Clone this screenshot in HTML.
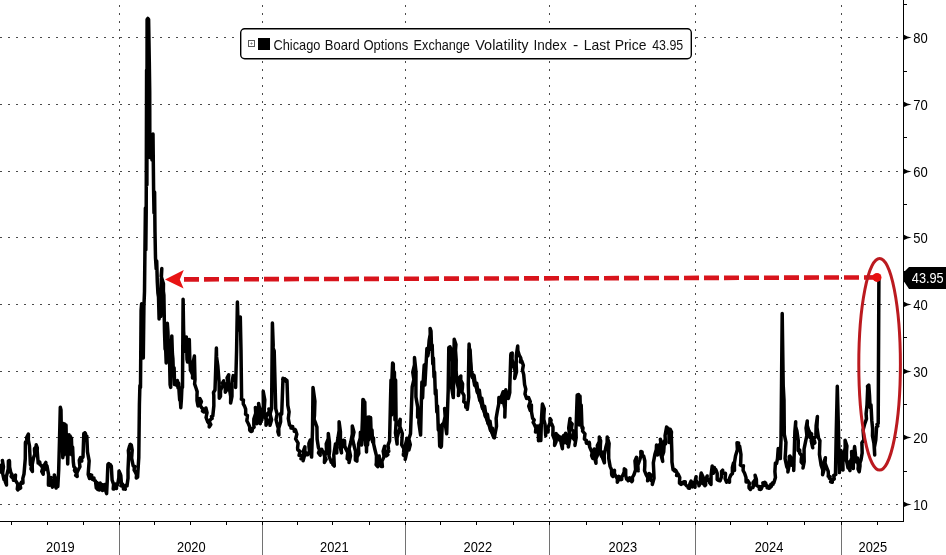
<!DOCTYPE html><html><head><meta charset="utf-8"><style>html,body{margin:0;padding:0;background:#fff;}svg{display:block;}text{font-family:"Liberation Sans",sans-serif;}.t{filter:grayscale(1)}</style></head><body>
<svg width="946" height="555" viewBox="0 0 946 555">
<rect x="0" y="0" width="946" height="555" fill="#fff"/>
<g shape-rendering="crispEdges" stroke="#4a4a4a" stroke-width="1">
<line x1="0" y1="37.5" x2="903" y2="37.5" stroke-dasharray="2 6"/>
<line x1="0" y1="104.5" x2="903" y2="104.5" stroke-dasharray="2 6"/>
<line x1="0" y1="171.5" x2="903" y2="171.5" stroke-dasharray="2 6"/>
<line x1="0" y1="237.5" x2="903" y2="237.5" stroke-dasharray="2 6"/>
<line x1="0" y1="304.5" x2="903" y2="304.5" stroke-dasharray="2 6"/>
<line x1="0" y1="371.5" x2="903" y2="371.5" stroke-dasharray="2 6"/>
<line x1="0" y1="437.5" x2="903" y2="437.5" stroke-dasharray="2 6"/>
<line x1="0" y1="504.5" x2="903" y2="504.5" stroke-dasharray="2 6"/>
<line x1="119.5" y1="0" x2="119.5" y2="521" stroke-dasharray="2 6" stroke-dashoffset="3"/>
<line x1="262.5" y1="0" x2="262.5" y2="521" stroke-dasharray="2 6" stroke-dashoffset="3"/>
<line x1="405.5" y1="0" x2="405.5" y2="521" stroke-dasharray="2 6" stroke-dashoffset="3"/>
<line x1="549.5" y1="0" x2="549.5" y2="521" stroke-dasharray="2 6" stroke-dashoffset="3"/>
<line x1="695.5" y1="0" x2="695.5" y2="521" stroke-dasharray="2 6" stroke-dashoffset="3"/>
<line x1="841.5" y1="0" x2="841.5" y2="521" stroke-dasharray="2 6" stroke-dashoffset="3"/>
</g>
<g shape-rendering="crispEdges">
<line x1="119.5" y1="521" x2="119.5" y2="555" stroke="#727272" stroke-width="1"/>
<line x1="119.5" y1="521" x2="119.5" y2="525" stroke="#000" stroke-width="1"/>
<line x1="262.5" y1="521" x2="262.5" y2="555" stroke="#727272" stroke-width="1"/>
<line x1="262.5" y1="521" x2="262.5" y2="525" stroke="#000" stroke-width="1"/>
<line x1="405.5" y1="521" x2="405.5" y2="555" stroke="#727272" stroke-width="1"/>
<line x1="405.5" y1="521" x2="405.5" y2="525" stroke="#000" stroke-width="1"/>
<line x1="549.5" y1="521" x2="549.5" y2="555" stroke="#727272" stroke-width="1"/>
<line x1="549.5" y1="521" x2="549.5" y2="525" stroke="#000" stroke-width="1"/>
<line x1="695.5" y1="521" x2="695.5" y2="555" stroke="#727272" stroke-width="1"/>
<line x1="695.5" y1="521" x2="695.5" y2="525" stroke="#000" stroke-width="1"/>
<line x1="841.5" y1="521" x2="841.5" y2="555" stroke="#727272" stroke-width="1"/>
<line x1="841.5" y1="521" x2="841.5" y2="525" stroke="#000" stroke-width="1"/>
<line x1="11.5" y1="521" x2="11.5" y2="525" stroke="#000" stroke-width="1"/>
<line x1="47.5" y1="521" x2="47.5" y2="525" stroke="#000" stroke-width="1"/>
<line x1="83.5" y1="521" x2="83.5" y2="525" stroke="#000" stroke-width="1"/>
<line x1="154.5" y1="521" x2="154.5" y2="525" stroke="#000" stroke-width="1"/>
<line x1="190.5" y1="521" x2="190.5" y2="525" stroke="#000" stroke-width="1"/>
<line x1="226.5" y1="521" x2="226.5" y2="525" stroke="#000" stroke-width="1"/>
<line x1="297.5" y1="521" x2="297.5" y2="525" stroke="#000" stroke-width="1"/>
<line x1="332.5" y1="521" x2="332.5" y2="525" stroke="#000" stroke-width="1"/>
<line x1="369.5" y1="521" x2="369.5" y2="525" stroke="#000" stroke-width="1"/>
<line x1="440.5" y1="521" x2="440.5" y2="525" stroke="#000" stroke-width="1"/>
<line x1="476.5" y1="521" x2="476.5" y2="525" stroke="#000" stroke-width="1"/>
<line x1="513.5" y1="521" x2="513.5" y2="525" stroke="#000" stroke-width="1"/>
<line x1="586.5" y1="521" x2="586.5" y2="525" stroke="#000" stroke-width="1"/>
<line x1="622.5" y1="521" x2="622.5" y2="525" stroke="#000" stroke-width="1"/>
<line x1="659.5" y1="521" x2="659.5" y2="525" stroke="#000" stroke-width="1"/>
<line x1="730.5" y1="521" x2="730.5" y2="525" stroke="#000" stroke-width="1"/>
<line x1="767.5" y1="521" x2="767.5" y2="525" stroke="#000" stroke-width="1"/>
<line x1="804.5" y1="521" x2="804.5" y2="525" stroke="#000" stroke-width="1"/>
<line x1="877.5" y1="521" x2="877.5" y2="525" stroke="#000" stroke-width="1"/>
<line x1="0" y1="521.5" x2="904" y2="521.5" stroke="#000" stroke-width="1"/>
<line x1="903.5" y1="0" x2="903.5" y2="522" stroke="#000" stroke-width="1"/>
<line x1="903" y1="4.5" x2="907" y2="4.5" stroke="#000" stroke-width="1"/>
<line x1="903" y1="71.5" x2="907" y2="71.5" stroke="#000" stroke-width="1"/>
<line x1="903" y1="137.5" x2="907" y2="137.5" stroke="#000" stroke-width="1"/>
<line x1="903" y1="204.5" x2="907" y2="204.5" stroke="#000" stroke-width="1"/>
<line x1="903" y1="271.5" x2="907" y2="271.5" stroke="#000" stroke-width="1"/>
<line x1="903" y1="337.5" x2="907" y2="337.5" stroke="#000" stroke-width="1"/>
<line x1="903" y1="404.5" x2="907" y2="404.5" stroke="#000" stroke-width="1"/>
<line x1="903" y1="471.5" x2="907" y2="471.5" stroke="#000" stroke-width="1"/>
</g>
<path d="M904 34.7 Q907 36.9 911.6 37.5 Q907 38.1 904 40.1 Z" fill="#000"/>
<text class="t" transform="translate(913.2 42.8) scale(0.93 1)" x="0" y="0" font-size="14" fill="#000">80</text>
<path d="M904 101.7 Q907 103.9 911.6 104.5 Q907 105.1 904 107.1 Z" fill="#000"/>
<text class="t" transform="translate(913.2 109.8) scale(0.93 1)" x="0" y="0" font-size="14" fill="#000">70</text>
<path d="M904 168.7 Q907 170.9 911.6 171.5 Q907 172.1 904 174.1 Z" fill="#000"/>
<text class="t" transform="translate(913.2 176.8) scale(0.93 1)" x="0" y="0" font-size="14" fill="#000">60</text>
<path d="M904 234.7 Q907 236.9 911.6 237.5 Q907 238.1 904 240.1 Z" fill="#000"/>
<text class="t" transform="translate(913.2 242.8) scale(0.93 1)" x="0" y="0" font-size="14" fill="#000">50</text>
<path d="M904 301.7 Q907 303.9 911.6 304.5 Q907 305.1 904 307.1 Z" fill="#000"/>
<text class="t" transform="translate(913.2 309.8) scale(0.93 1)" x="0" y="0" font-size="14" fill="#000">40</text>
<path d="M904 368.7 Q907 370.9 911.6 371.5 Q907 372.1 904 374.1 Z" fill="#000"/>
<text class="t" transform="translate(913.2 376.8) scale(0.93 1)" x="0" y="0" font-size="14" fill="#000">30</text>
<path d="M904 434.7 Q907 436.9 911.6 437.5 Q907 438.1 904 440.1 Z" fill="#000"/>
<text class="t" transform="translate(913.2 442.8) scale(0.93 1)" x="0" y="0" font-size="14" fill="#000">20</text>
<path d="M904 501.7 Q907 503.9 911.6 504.5 Q907 505.1 904 507.1 Z" fill="#000"/>
<text class="t" transform="translate(913.2 509.8) scale(0.93 1)" x="0" y="0" font-size="14" fill="#000">10</text>
<text class="t" transform="translate(60.4 552) scale(0.92 1)" x="0" y="0" font-size="14" fill="#000" text-anchor="middle">2019</text>
<text class="t" transform="translate(191.3 552) scale(0.92 1)" x="0" y="0" font-size="14" fill="#000" text-anchor="middle">2020</text>
<text class="t" transform="translate(334.3 552) scale(0.92 1)" x="0" y="0" font-size="14" fill="#000" text-anchor="middle">2021</text>
<text class="t" transform="translate(477.8 552) scale(0.92 1)" x="0" y="0" font-size="14" fill="#000" text-anchor="middle">2022</text>
<text class="t" transform="translate(622.8 552) scale(0.92 1)" x="0" y="0" font-size="14" fill="#000" text-anchor="middle">2023</text>
<text class="t" transform="translate(769 552) scale(0.92 1)" x="0" y="0" font-size="14" fill="#000" text-anchor="middle">2024</text>
<text class="t" transform="translate(872.8 552) scale(0.92 1)" x="0" y="0" font-size="14" fill="#000" text-anchor="middle">2025</text>
<path d="M0.00 472.00 L1.30 469.27 L0.62 466.13 L2.73 463.57 L2.40 460.50 L3.46 466.79 L2.60 473.24 L4.00 479.50 L3.88 478.34 L5.00 478.00 L5.24 481.61 L6.50 485.00 L6.29 476.93 L8.27 469.04 L8.40 461.00 L9.28 460.53 L9.50 461.50 L9.62 467.16 L10.80 472.70 L11.86 474.31 L11.11 476.46 L12.40 478.00 L13.92 478.69 L13.50 480.30 L14.70 478.81 L14.24 476.67 L15.50 475.20 L15.18 479.92 L17.85 484.25 L17.30 489.00 L17.83 489.90 L18.37 488.23 L18.90 489.00 L20.67 488.00 L20.30 486.00 L20.46 483.84 L21.60 482.00 L21.66 483.39 L23.00 483.00 L22.82 478.42 L24.00 474.00 L25.28 458.53 L25.40 443.00 L25.55 442.09 L26.95 442.51 L27.00 441.50 L26.65 437.55 L28.40 434.00 L28.34 440.06 L29.50 446.00 L30.40 464.60 L31.63 464.78 L31.40 466.00 L30.98 468.92 L32.40 471.50 L32.20 464.59 L33.50 457.80 L34.87 454.22 L34.50 450.40 L34.56 448.38 L36.13 446.82 L36.20 444.80 L37.32 447.80 L37.20 451.00 L38.10 461.90 L38.13 463.12 L39.76 462.13 L39.90 463.20 L39.95 464.62 L41.20 465.30 L42.75 468.07 L41.75 471.41 L43.20 474.20 L43.20 471.09 L45.58 468.53 L44.27 465.13 L45.90 462.40 L45.82 464.39 L47.00 466.00 L48.59 474.78 L48.40 483.70 L48.45 485.07 L49.80 485.30 L49.41 481.20 L51.20 477.50 L50.85 482.43 L52.50 487.10 L52.42 483.00 L54.87 479.28 L54.30 475.10 L55.46 479.32 L54.73 483.81 L56.10 488.00 L55.85 486.53 L57.79 486.53 L57.90 485.30 L58.70 470.00 L59.50 440.00 L60.30 407.20 L61.00 410.00 L61.60 450.00 L62.20 425.00 L62.80 457.80 L63.50 423.50 L64.10 455.00 L64.70 424.00 L65.30 448.00 L66.00 425.00 L66.60 452.00 L67.20 436.00 L67.70 464.00 L68.30 440.00 L69.00 434.80 L69.60 452.00 L70.20 436.00 L70.80 454.00 L71.40 438.00 L72.00 455.00 L72.60 447.00 L73.30 462.00 L73.90 466.70 L75.23 468.23 L74.48 470.38 L75.50 472.00 L76.97 473.16 L75.67 475.36 L77.20 476.50 L76.82 473.11 L78.20 470.00 L79.94 466.70 L79.50 463.00 L79.31 460.12 L80.50 457.50 L80.23 459.59 L81.80 461.00 L81.53 458.74 L83.00 457.00 L83.80 433.60 L84.42 434.46 L84.89 432.73 L85.50 433.50 L85.19 435.25 L86.80 436.00 L87.50 452.00 L89.16 460.94 L88.50 470.00 L88.18 474.35 L89.50 478.50 L90.30 474.80 L91.68 475.10 L91.50 476.50 L91.50 478.17 L92.50 479.50 L92.58 478.08 L94.00 478.10 L93.91 479.98 L95.50 481.00 L96.30 488.00 L97.00 482.50 L97.80 489.50 L98.60 484.00 L99.40 490.00 L100.20 483.00 L101.00 489.50 L101.80 484.50 L102.60 490.50 L103.40 485.00 L104.20 489.00 L105.00 484.50 L105.80 491.00 L106.60 493.60 L107.30 480.00 L107.90 464.50 L108.79 463.53 L108.65 465.86 L109.50 465.00 L110.43 464.73 L110.33 466.33 L111.30 466.00 L112.10 480.00 L113.60 484.38 L113.20 489.00 L114.15 488.89 L114.50 488.00 L114.21 485.80 L115.50 484.00 L115.41 486.38 L116.50 488.50 L116.51 486.35 L117.60 484.50 L118.82 477.80 L119.00 471.00 L120.52 474.35 L120.00 478.00 L120.80 475.50 L121.60 486.00 L122.57 485.24 L122.50 484.00 L123.60 486.38 L123.40 489.00 L124.30 486.00 L124.07 487.83 L125.30 489.20 L124.67 486.87 L126.20 485.00 L127.00 486.00 L128.04 478.03 L128.00 470.00 L128.70 455.00 L128.35 450.42 L129.60 446.00 L130.61 446.42 L130.17 444.37 L131.30 445.00 L132.20 450.00 L131.63 458.07 L133.20 466.00 L134.72 466.47 L134.30 468.00 L134.14 470.17 L135.30 472.00 L136.57 474.87 L136.30 478.00 L137.66 476.99 L137.70 475.30 L138.20 467.00 L138.80 457.30 L139.40 404.30 L139.90 385.50 L140.50 387.40 L141.10 310.10 L141.60 303.80 L142.20 348.40 L142.80 325.70 L143.30 358.10 L143.90 307.00 L144.50 291.60 L144.95 249.85 L145.40 208.10 L145.80 250.00 L146.20 212.00 L146.60 70.00 L146.90 185.00 L147.10 19.50 L147.85 18.38 L148.60 19.50 L149.30 62.00 L149.70 91.00 L149.80 131.00 L149.90 157.50 L150.70 157.00 L151.50 145.00 L152.00 160.00 L152.50 147.00 L153.00 134.00 L153.60 190.00 L154.00 213.00 L154.60 192.00 L155.00 232.00 L155.50 258.00 L156.20 269.00 L156.70 261.00 L157.30 282.00 L157.90 293.00 L158.50 297.00 L159.10 319.00 L159.60 300.00 L160.10 304.00 L160.70 316.50 L161.30 279.00 L161.80 268.60 L161.17 276.25 L163.45 283.69 L163.40 291.30 L163.90 295.30 L164.50 331.60 L165.10 349.30 L165.60 347.40 L166.20 363.00 L166.80 343.50 L167.30 323.20 L167.90 331.40 L168.40 347.10 L169.00 343.70 L169.60 361.60 L170.10 384.60 L170.70 387.40 L171.30 350.90 L171.80 335.90 L172.40 353.80 L172.90 358.60 L173.50 375.80 L174.10 367.70 L174.60 384.60 L175.20 383.40 L175.80 383.40 L176.30 385.10 L176.90 384.40 L177.40 380.60 L178.00 387.80 L178.60 383.00 L179.10 392.20 L179.70 400.10 L180.30 399.10 L180.80 407.70 L181.40 399.10 L181.90 387.40 L182.50 387.40 L183.10 299.20 L183.60 330.60 L184.20 341.80 L184.80 346.70 L185.30 348.00 L185.90 351.60 L186.40 337.00 L187.00 359.40 L187.60 362.00 L188.10 345.60 L188.70 356.40 L189.30 339.60 L189.80 359.30 L190.40 368.30 L190.37 370.32 L191.50 372.00 L192.64 374.89 L192.50 378.00 L193.59 374.07 L193.40 370.00 L193.07 362.94 L194.40 356.00 L195.00 379.60 L194.60 383.91 L196.00 388.00 L197.16 391.61 L197.00 395.40 L197.02 400.75 L198.00 406.00 L197.88 403.34 L199.99 401.25 L199.90 398.60 L201.43 401.55 L200.09 405.11 L201.90 408.00 L203.44 408.90 L202.47 411.05 L203.90 412.00 L203.74 410.25 L206.10 409.77 L205.90 408.00 L207.05 412.60 L206.05 417.48 L207.80 422.00 L209.50 424.16 L209.20 426.90 L210.82 424.56 L209.23 421.55 L210.80 419.20 L212.11 418.54 L211.48 416.66 L212.80 416.00 L213.85 405.73 L213.80 395.40 L213.49 392.50 L215.00 390.00 L215.70 369.00 L216.40 348.00 L216.58 356.89 L217.80 365.70 L219.08 381.93 L219.30 398.20 L220.51 396.27 L220.50 394.00 L220.51 390.64 L221.70 387.50 L223.06 385.47 L222.54 382.89 L223.70 380.80 L223.76 384.67 L225.35 388.32 L225.30 392.20 L226.43 390.25 L226.50 388.00 L226.32 384.58 L228.09 381.48 L227.06 377.92 L228.70 374.80 L228.23 382.45 L229.60 390.00 L230.69 396.51 L230.60 403.10 L231.96 396.37 L232.00 389.50 L231.87 382.49 L233.20 375.60 L233.31 376.81 L234.50 377.00 L235.62 382.19 L235.60 387.50 L236.10 368.75 L236.60 350.00 L237.40 302.00 L238.20 330.00 L239.83 325.12 L239.30 320.00 L238.67 318.12 L240.30 317.00 L241.00 350.00 L241.60 397.30 L241.36 399.13 L243.45 400.17 L243.20 402.00 L243.33 404.17 L244.50 406.00 L245.64 409.05 L245.70 412.30 L245.54 414.16 L247.40 415.36 L247.30 417.20 L246.84 420.79 L248.50 424.00 L249.69 426.93 L249.70 430.10 L250.16 430.79 L251.34 429.45 L251.28 431.58 L252.20 431.00 L252.17 428.85 L254.11 427.22 L253.80 425.00 L253.84 419.09 L255.72 413.34 L255.40 407.40 L257.11 412.72 L255.37 418.37 L257.00 423.70 L256.56 416.86 L258.73 410.22 L258.60 403.40 L259.91 410.10 L259.14 416.98 L260.30 423.70 L260.09 421.46 L261.80 420.00 L263.36 405.64 L263.20 391.20 L264.79 399.83 L264.30 408.60 L264.15 414.24 L266.07 419.67 L266.00 425.30 L267.59 421.51 L265.89 417.27 L267.60 413.50 L269.30 411.55 L268.90 409.00 L270.51 417.08 L270.00 425.30 L271.60 419.84 L270.06 414.07 L271.60 408.60 L272.40 323.00 L273.20 345.00 L273.07 348.11 L274.20 351.00 L274.95 379.80 L275.70 408.60 L277.08 413.95 L276.03 419.54 L277.30 424.90 L278.33 428.19 L277.87 431.71 L278.90 435.00 L278.75 428.31 L280.63 421.79 L280.50 415.10 L280.44 413.83 L281.70 414.00 L282.35 396.10 L283.00 378.20 L282.76 379.63 L284.78 378.89 L283.97 380.87 L285.40 380.70 L285.93 379.51 L286.47 381.87 L287.00 380.70 L287.80 405.40 L289.11 411.84 L288.30 418.46 L289.50 424.90 L290.83 426.17 L291.00 428.00 L291.98 427.97 L291.72 426.53 L292.70 426.50 L292.35 428.39 L294.84 429.34 L294.30 431.30 L295.70 431.39 L295.50 430.00 L296.84 434.30 L295.61 438.91 L298.12 443.07 L297.60 447.60 L297.72 449.73 L299.78 451.24 L299.50 453.50 L299.08 455.21 L301.63 455.43 L301.30 457.10 L300.99 458.76 L303.24 459.13 L303.10 460.70 L304.30 456.18 L303.26 451.36 L304.90 446.90 L304.84 450.92 L306.20 454.70 L306.90 453.64 L307.60 454.70 L309.46 451.01 L309.00 446.90 L308.90 443.31 L310.30 440.00 L310.18 448.61 L311.60 457.10 L312.50 430.00 L313.00 387.40 L314.91 401.14 L314.50 415.00 L314.11 419.39 L315.70 423.50 L316.94 427.15 L317.00 431.00 L317.13 439.30 L318.40 447.50 L319.57 449.97 L318.50 452.95 L320.20 455.30 L319.92 452.04 L321.70 449.30 L321.82 450.49 L322.90 451.00 L324.72 456.61 L324.40 462.50 L326.10 459.39 L324.51 455.75 L326.70 452.72 L326.50 449.30 L326.23 443.90 L328.27 438.76 L328.30 433.40 L329.44 442.16 L329.60 451.00 L328.98 455.98 L330.70 460.70 L331.84 460.43 L331.19 462.25 L333.02 461.18 L332.80 462.50 L332.82 464.60 L334.30 466.10 L333.79 454.94 L335.50 443.90 L335.09 448.55 L336.80 452.90 L336.72 445.65 L337.90 438.50 L339.16 430.15 L339.10 421.70 L340.44 431.81 L340.40 442.00 L340.30 447.52 L341.50 452.90 L341.21 448.57 L343.36 444.59 L343.30 440.30 L344.57 440.68 L344.60 442.00 L344.74 445.76 L346.00 449.30 L347.77 452.70 L347.30 456.50 L347.16 458.70 L349.21 460.28 L349.00 462.50 L350.50 455.75 L349.07 448.73 L350.80 442.00 L352.33 434.07 L352.30 426.00 L353.97 432.24 L352.53 438.74 L353.90 445.00 L355.51 451.45 L355.40 458.10 L355.38 460.02 L356.90 461.20 L356.98 457.23 L358.82 453.51 L358.60 449.50 L358.59 443.70 L360.28 438.08 L360.40 432.30 L361.95 438.57 L361.40 445.00 L361.90 432.50 L362.40 420.00 L362.90 399.50 L363.60 400.00 L364.20 440.00 L364.80 402.00 L365.40 445.00 L366.00 418.00 L366.50 452.00 L367.10 425.00 L367.60 445.00 L368.20 417.00 L368.80 440.00 L369.40 417.00 L370.00 438.00 L370.60 417.50 L371.30 438.00 L372.00 430.00 L372.60 442.00 L373.50 438.00 L373.60 443.82 L374.90 449.50 L376.47 455.86 L376.40 462.40 L376.09 464.80 L377.70 466.60 L377.58 461.18 L379.20 456.00 L379.25 460.42 L380.70 464.60 L381.92 464.71 L381.16 466.50 L382.40 466.60 L381.91 461.41 L384.05 456.51 L383.17 451.28 L384.60 446.30 L384.52 449.65 L386.40 452.65 L386.30 456.00 L387.83 454.71 L386.60 452.48 L388.79 451.41 L388.50 449.50 L388.03 445.02 L389.60 440.80 L390.40 405.00 L391.00 380.00 L391.50 415.00 L392.00 378.00 L392.60 363.00 L393.30 364.00 L393.80 410.00 L394.40 372.00 L395.00 420.00 L395.60 380.00 L396.10 422.00 L395.46 433.00 L397.10 443.90 L397.06 437.85 L398.60 432.00 L400.05 427.88 L398.83 423.43 L400.20 419.30 L399.92 426.53 L402.31 433.56 L401.90 440.80 L401.67 444.82 L403.89 448.48 L403.60 452.50 L403.33 454.99 L405.79 456.84 L405.20 459.40 L406.78 452.48 L405.29 445.31 L407.00 438.40 L406.49 442.45 L408.92 446.03 L408.90 450.00 L410.31 444.65 L408.81 439.02 L410.50 433.70 L411.07 418.07 L411.63 402.43 L412.20 386.80 L413.86 379.59 L412.77 372.15 L414.49 364.94 L414.50 357.60 L416.00 372.16 L415.90 386.80 L415.94 397.00 L417.69 407.10 L417.60 417.30 L418.65 415.09 L417.73 412.42 L419.20 410.30 L418.86 422.71 L420.60 435.00 L421.40 400.00 L421.90 382.00 L422.60 398.00 L423.30 380.00 L424.20 365.00 L424.90 385.00 L425.60 372.00 L426.30 360.00 L426.90 348.60 L428.47 352.16 L427.80 356.00 L428.50 348.60 L429.20 340.00 L430.24 334.25 L430.10 328.40 L431.00 331.00 L431.60 350.00 L432.20 345.00 L432.80 364.00 L433.40 358.00 L434.00 377.00 L434.60 372.00 L435.30 394.00 L436.00 390.00 L436.80 412.00 L437.50 406.00 L438.30 430.00 L439.00 425.00 L439.70 446.20 L440.33 445.24 L440.78 447.22 L441.40 446.30 L442.20 425.10 L442.47 424.10 L443.50 424.00 L445.16 416.33 L444.60 408.50 L446.32 413.42 L445.70 418.60 L445.56 426.19 L446.70 433.70 L447.45 411.85 L448.20 390.00 L448.80 347.50 L450.03 346.85 L449.76 348.91 L450.80 348.60 L452.23 361.76 L452.00 375.00 L451.46 386.37 L453.30 397.60 L453.80 370.00 L454.20 339.20 L455.92 344.47 L455.50 350.00 L456.20 360.00 L456.10 371.53 L457.20 383.00 L458.59 389.23 L458.40 395.60 L459.80 387.86 L459.50 380.00 L459.46 377.78 L460.80 376.00 L460.72 380.02 L462.57 383.77 L462.40 387.80 L461.94 391.74 L463.96 395.33 L464.00 399.20 L463.72 401.59 L465.90 403.33 L465.70 405.70 L465.78 407.10 L467.42 407.81 L467.30 409.30 L468.73 397.19 L468.30 385.00 L469.10 344.00 L469.70 353.00 L470.30 362.00 L470.90 371.00 L471.55 373.00 L472.20 375.00 L472.85 377.00 L473.50 379.00 L474.18 381.00 L474.85 383.00 L475.52 385.00 L476.20 387.00 L476.85 389.12 L477.50 391.25 L478.15 393.38 L478.80 395.50 L479.45 397.62 L480.10 399.75 L480.75 401.88 L481.40 404.00 L481.96 405.60 L482.52 407.20 L483.08 408.80 L483.64 410.40 L484.20 412.00 L484.76 413.60 L485.32 415.20 L485.88 416.80 L486.44 418.40 L487.00 420.00 L487.62 421.62 L488.25 423.25 L488.88 424.88 L489.50 426.50 L490.12 428.12 L490.75 429.75 L491.38 431.38 L492.00 433.00 L492.57 434.20 L493.15 435.40 L493.73 436.60 L494.30 437.80 L494.85 434.90 L495.40 432.00 L495.95 429.10 L496.50 426.20 L496.15 418.20 L497.50 410.30 L498.72 404.01 L498.90 397.60 L500.46 397.43 L500.40 399.00 L500.13 401.10 L501.80 402.40 L501.33 396.90 L503.20 391.70 L503.18 400.20 L504.94 408.59 L504.80 417.10 L505.30 403.40 L505.80 389.70 L505.95 391.09 L507.00 392.00 L508.72 394.98 L508.40 398.40 L509.77 392.53 L509.80 386.50 L510.30 370.65 L510.80 354.80 L511.05 353.55 L512.20 353.00 L512.02 359.08 L513.40 365.00 L515.18 371.59 L514.70 378.40 L516.51 371.82 L516.20 365.00 L516.29 355.50 L517.70 346.10 L517.82 350.54 L519.10 354.80 L520.87 358.20 L520.40 362.00 L521.65 362.05 L521.70 360.80 L523.34 365.26 L522.49 370.08 L523.70 374.60 L524.60 384.60 L525.78 389.13 L524.97 393.94 L526.60 398.40 L526.97 397.40 L528.13 398.36 L528.60 397.60 L530.28 401.69 L528.74 406.18 L530.20 410.30 L529.77 407.42 L531.40 405.00 L531.46 411.70 L532.60 418.30 L534.19 419.98 L533.16 422.37 L534.20 424.20 L535.94 427.97 L535.50 432.10 L537.03 429.24 L537.00 426.00 L538.47 433.33 L538.50 440.80 L540.12 432.98 L540.00 425.00 L540.80 440.60 L541.50 418.30 L542.40 404.00 L544.29 408.98 L543.90 414.30 L543.78 419.32 L545.00 424.20 L545.70 435.70 L545.67 432.70 L547.61 430.06 L547.30 427.00 L548.10 432.00 L548.09 427.44 L549.92 423.15 L550.00 418.60 L551.14 420.22 L550.64 422.36 L551.70 424.00 L552.96 426.87 L553.00 430.00 L552.83 435.21 L554.76 440.19 L554.60 445.40 L556.15 441.60 L554.98 437.44 L556.20 433.60 L556.23 434.87 L557.50 435.00 L558.73 436.48 L558.15 438.67 L559.50 440.10 L559.81 438.34 L561.00 437.00 L561.04 442.93 L562.40 448.70 L562.45 444.73 L564.47 441.04 L564.00 437.00 L563.73 435.39 L565.63 434.71 L565.60 433.20 L567.01 436.46 L566.80 440.00 L566.21 442.59 L568.41 444.54 L568.40 447.00 L570.00 437.59 L568.68 428.02 L570.00 418.60 L569.71 421.56 L572.13 424.00 L571.60 427.00 L571.39 429.38 L573.49 431.20 L573.20 433.60 L572.80 437.67 L575.51 441.30 L574.90 445.40 L576.17 437.75 L576.00 430.00 L576.60 412.50 L577.20 395.00 L578.00 420.00 L578.60 394.50 L579.30 425.00 L580.00 396.00 L580.60 420.00 L581.20 405.00 L582.00 428.00 L582.50 426.92 L583.00 428.00 L582.56 431.17 L584.99 433.84 L584.60 437.00 L584.39 439.08 L586.37 440.53 L586.20 442.60 L586.61 443.24 L587.41 442.31 L587.80 443.00 L588.25 443.65 L589.17 442.28 L589.50 443.40 L589.60 446.85 L591.00 450.00 L592.15 452.68 L591.60 455.71 L592.70 458.40 L592.16 455.08 L594.86 452.32 L594.30 449.00 L595.82 453.65 L594.76 458.61 L596.00 463.30 L595.88 458.79 L597.75 454.52 L597.60 450.00 L597.36 445.59 L599.32 441.48 L599.30 437.10 L600.64 440.94 L600.40 445.00 L600.28 450.76 L601.50 456.40 L601.08 453.84 L602.90 452.00 L602.48 457.56 L604.40 462.80 L604.23 455.07 L605.80 447.50 L607.15 442.39 L607.20 437.10 L609.12 443.41 L608.70 450.00 L608.70 458.26 L610.10 466.40 L611.57 469.85 L611.60 473.60 L611.87 475.26 L613.00 476.50 L613.02 473.22 L614.50 470.30 L614.40 473.49 L615.90 476.30 L617.42 479.11 L617.30 482.30 L618.66 479.45 L618.80 476.30 L620.26 477.38 L620.20 479.20 L620.89 479.78 L621.70 479.40 L621.71 477.01 L623.00 475.00 L624.18 472.01 L624.30 468.80 L625.68 469.80 L625.70 471.50 L625.69 475.42 L626.70 479.20 L627.77 479.67 L628.10 480.80 L629.48 479.55 L629.60 477.70 L630.89 478.98 L631.00 480.80 L631.87 481.59 L632.50 480.60 L632.36 477.50 L633.90 474.80 L635.61 469.94 L635.30 464.80 L634.96 460.90 L636.50 457.30 L636.01 461.28 L637.50 465.00 L638.20 470.80 L637.85 465.25 L639.70 460.00 L641.00 455.85 L640.80 451.50 L642.05 451.90 L642.20 453.20 L641.89 455.20 L643.70 456.10 L644.83 460.99 L644.80 466.00 L644.51 470.56 L646.20 474.80 L647.82 477.59 L647.60 480.80 L648.80 477.20 L649.00 473.40 L650.75 474.78 L650.50 477.00 L650.01 479.73 L652.61 481.71 L652.30 484.40 L654.05 478.32 L653.80 472.00 L653.34 462.88 L655.00 453.90 L656.32 449.55 L656.50 445.00 L657.85 449.91 L657.50 455.00 L658.87 452.95 L658.60 450.50 L658.13 446.56 L660.85 443.13 L660.40 439.20 L662.02 444.49 L661.50 450.00 L661.20 455.79 L662.70 461.40 L662.08 456.58 L663.70 452.00 L664.40 441.00 L664.04 442.83 L665.50 444.00 L665.07 435.44 L666.60 427.00 L666.92 428.03 L668.00 428.00 L669.00 435.27 L669.00 442.60 L670.17 435.95 L670.20 429.20 L671.48 431.96 L671.30 435.00 L671.90 453.90 L671.95 461.89 L673.10 469.80 L674.50 469.58 L674.50 471.00 L675.57 471.31 L675.60 470.20 L677.02 472.68 L676.60 475.50 L677.99 475.48 L678.10 474.10 L679.75 477.51 L679.50 481.30 L679.50 483.21 L681.00 484.40 L681.36 483.11 L682.50 482.40 L682.68 483.72 L683.90 483.20 L683.86 481.75 L685.30 481.70 L685.20 484.02 L686.70 485.80 L688.16 486.41 L688.20 488.00 L689.45 488.28 L689.60 487.00 L689.84 483.87 L691.10 481.00 L690.82 484.14 L692.50 486.80 L692.63 484.43 L694.00 482.50 L693.98 485.01 L695.00 487.30 L694.88 481.93 L696.10 476.70 L695.82 479.93 L697.50 482.70 L698.82 483.98 L699.00 485.80 L700.70 482.29 L700.40 478.40 L701.20 473.10 L703.07 477.00 L702.60 481.30 L702.54 483.19 L704.00 484.40 L704.85 483.93 L704.82 485.63 L705.70 485.10 L705.49 480.39 L707.20 476.00 L706.91 478.56 L708.60 480.50 L709.30 479.58 L710.00 480.50 L709.59 482.68 L711.00 484.40 L711.07 475.12 L712.20 465.90 L712.22 469.69 L713.40 473.30 L713.25 470.34 L714.40 467.60 L714.28 469.15 L715.80 469.50 L717.19 473.43 L717.20 477.60 L717.16 479.46 L718.70 480.50 L719.50 480.17 L720.10 480.80 L721.36 477.15 L721.60 473.30 L721.52 471.52 L722.70 470.20 L722.46 472.12 L724.00 473.30 L725.44 473.36 L725.50 474.80 L725.09 478.64 L726.60 482.20 L726.77 480.91 L728.00 480.50 L728.11 481.91 L729.50 482.20 L729.45 478.34 L731.00 474.80 L732.43 473.70 L732.40 471.90 L732.39 467.38 L733.50 463.00 L732.89 466.85 L734.50 470.40 L734.38 463.16 L735.50 456.00 L737.43 449.53 L737.00 442.80 L738.59 442.92 L738.40 444.50 L738.62 445.56 L739.60 446.00 L740.96 454.55 L740.70 463.20 L740.37 465.09 L742.00 466.10 L743.43 465.87 L743.20 467.30 L743.12 470.48 L744.60 473.30 L746.01 477.54 L746.10 482.00 L747.30 481.70 L747.60 480.50 L749.43 483.13 L749.00 486.30 L749.12 488.11 L750.40 489.40 L750.42 488.01 L751.80 487.80 L752.96 487.46 L753.30 486.30 L753.05 482.46 L755.65 479.09 L755.10 475.20 L756.37 479.20 L756.50 483.40 L756.30 485.34 L758.00 486.30 L759.30 486.40 L759.40 487.70 L759.31 489.29 L760.90 489.40 L761.60 488.30 L761.21 486.57 L763.27 485.80 L763.20 484.20 L762.85 482.83 L764.91 483.39 L764.80 482.20 L765.82 483.34 L765.49 485.06 L766.50 486.20 L767.65 486.10 L767.17 487.86 L768.76 487.25 L768.90 488.30 L769.90 487.95 L769.39 486.46 L770.50 486.20 L771.55 486.18 L770.89 484.34 L772.20 484.60 L773.07 484.41 L772.55 482.81 L773.80 483.00 L775.43 477.40 L774.90 471.60 L775.40 463.10 L776.18 462.76 L776.60 463.50 L777.50 458.60 L778.20 448.50 L778.44 449.82 L779.50 449.00 L780.30 458.60 L781.00 440.00 L781.60 376.75 L782.20 313.50 L782.70 349.25 L783.20 385.00 L784.00 400.00 L784.30 434.30 L785.94 442.32 L785.60 450.50 L785.07 458.73 L786.80 466.80 L788.02 469.26 L787.90 472.00 L789.30 464.36 L789.20 456.60 L790.04 456.08 L790.40 457.00 L789.81 461.23 L791.60 465.10 L792.40 458.20 L793.95 464.20 L793.70 470.40 L794.30 450.75 L794.90 431.10 L795.70 421.70 L795.57 426.49 L796.90 431.10 L798.29 440.75 L798.10 450.50 L798.80 451.02 L799.04 449.73 L799.70 450.10 L799.69 453.16 L801.83 455.84 L801.30 459.00 L801.19 462.13 L803.57 464.79 L803.00 468.00 L804.21 461.76 L804.10 455.40 L804.08 448.83 L805.40 442.40 L806.88 435.31 L806.05 428.01 L807.30 420.90 L807.21 425.56 L808.60 430.00 L810.45 433.59 L810.00 437.60 L811.56 436.81 L810.09 434.71 L811.60 433.90 L811.22 440.87 L812.70 447.70 L812.12 444.90 L814.90 442.80 L814.30 440.00 L813.99 437.86 L816.33 436.47 L815.90 434.30 L816.14 425.41 L817.40 416.60 L816.94 427.35 L818.50 438.00 L819.93 440.56 L819.80 443.50 L819.43 454.36 L821.10 465.10 L822.78 469.81 L822.60 474.80 L823.98 470.00 L824.00 465.00 L824.19 461.25 L825.40 457.70 L825.01 463.02 L826.90 468.00 L828.21 471.28 L828.40 474.80 L828.22 476.25 L830.15 476.62 L829.43 478.34 L830.60 479.10 L832.06 479.69 L830.69 481.79 L832.30 482.30 L832.19 480.34 L834.28 479.04 L833.90 477.00 L833.78 475.30 L835.79 474.37 L835.50 472.60 L836.30 430.00 L836.80 408.15 L837.30 386.30 L837.75 403.15 L838.20 420.00 L838.80 446.30 L839.40 472.60 L840.30 465.00 L841.00 450.50 L842.26 457.70 L842.00 465.00 L841.91 467.62 L843.00 470.00 L842.90 462.46 L844.00 455.00 L845.18 447.65 L845.10 440.20 L846.92 445.97 L846.50 452.00 L846.42 460.08 L848.00 468.00 L847.87 464.90 L849.00 462.00 L848.38 466.38 L850.00 470.50 L849.34 464.07 L851.87 457.90 L851.60 451.50 L852.50 462.00 L853.30 468.50 L853.37 457.52 L854.60 446.60 L855.50 455.00 L855.39 458.59 L856.50 462.00 L856.47 459.87 L857.50 458.00 L858.30 466.00 L858.03 469.01 L859.20 471.80 L860.00 466.00 L859.96 462.91 L861.00 460.00 L862.15 453.05 L862.00 446.00 L861.88 442.75 L863.94 439.88 L863.60 436.60 L863.09 430.00 L864.80 423.60 L866.46 418.89 L866.10 413.90 L867.00 405.00 L867.70 388.00 L867.52 386.27 L868.80 385.10 L869.50 395.00 L870.10 407.40 L871.00 405.00 L871.80 420.40 L872.60 428.50 L872.48 435.87 L873.90 443.10 L874.70 454.90 L874.39 447.34 L875.80 439.90 L876.60 426.90 L877.81 426.13 L877.02 424.38 L878.20 423.60 L878.90 278.00" fill="none" stroke="#000" stroke-width="3.5" stroke-linejoin="round" stroke-linecap="round"/>
<path d="M469.6 350 L470.3 362 L470.9 371 L472.5 377 L473.6 375.5 L475 385 L476.3 383.5 L477.6 392 L478.9 390.5 L480.1 400 L481.4 398.5 L482.8 408 L484.2 406.5 L485.6 416 L487 414.5 L488.3 423 L489.6 421.5 L490.8 430 L492 428.5 L494 437" fill="none" stroke="#000" stroke-width="4.4" stroke-linejoin="round" stroke-linecap="round"/>
<line x1="184" y1="279.4" x2="877" y2="277.4" stroke="#d8141c" stroke-width="4.6" stroke-dasharray="15 5"/>
<path d="M165 279.4 L183.8 270 L179.8 279.4 L183.6 288.4 Z" fill="#e81414"/>
<circle cx="877" cy="277.4" r="4.5" fill="#e81010"/>
<ellipse cx="879.6" cy="364.3" rx="20.8" ry="105.8" fill="none" stroke="#bb1a1f" stroke-width="3.0"/>
<path d="M904 272 L909 267 L946 267 L946 289 L909 289 L904 281.5 Z" fill="#000"/>
<text class="t" transform="translate(911.8 283) scale(0.91 1)" x="0" y="0" font-size="14" fill="#fff">43.95</text>
<rect x="240.7" y="28.7" width="450.6" height="30" rx="4" ry="4" fill="#fff" stroke="#000" stroke-width="1.4"/>
<rect x="248.5" y="40.5" width="6" height="6" fill="#fff" stroke="#5a5a5a" stroke-width="1"/>
<path d="M251.5 42.3 V44.7 M250.3 43.5 H252.7" stroke="#777" stroke-width="0.8"/>
<rect x="258" y="38" width="12" height="12" fill="#000"/>
<text class="t" transform="translate(273.48 49.9) scale(0.9160 1)" x="0" y="0" font-size="14" fill="#111">Chicago</text>
<text class="t" transform="translate(324.87 49.9) scale(0.9314 1)" x="0" y="0" font-size="14" fill="#111">Board</text>
<text class="t" transform="translate(363.47 49.9) scale(0.9319 1)" x="0" y="0" font-size="14" fill="#111">Options</text>
<text class="t" transform="translate(413.60 49.9) scale(0.9049 1)" x="0" y="0" font-size="14" fill="#111">Exchange</text>
<text class="t" transform="translate(475.20 49.9) scale(1.0373 1)" x="0" y="0" font-size="14" fill="#111">Volatility</text>
<text class="t" transform="translate(533.53 49.9) scale(0.9697 1)" x="0" y="0" font-size="14" fill="#111">Index</text>
<text class="t" transform="translate(572.97 49.9) scale(1.1333 1)" x="0" y="0" font-size="14" fill="#111">-</text>
<text class="t" transform="translate(583.70 49.9) scale(0.9960 1)" x="0" y="0" font-size="14" fill="#111">Last</text>
<text class="t" transform="translate(614.71 49.9) scale(0.9933 1)" x="0" y="0" font-size="14" fill="#111">Price</text>
<text class="t" transform="translate(652.20 49.9) scale(0.8857 1)" x="0" y="0" font-size="14" fill="#111">43.95</text>
</svg></body></html>
